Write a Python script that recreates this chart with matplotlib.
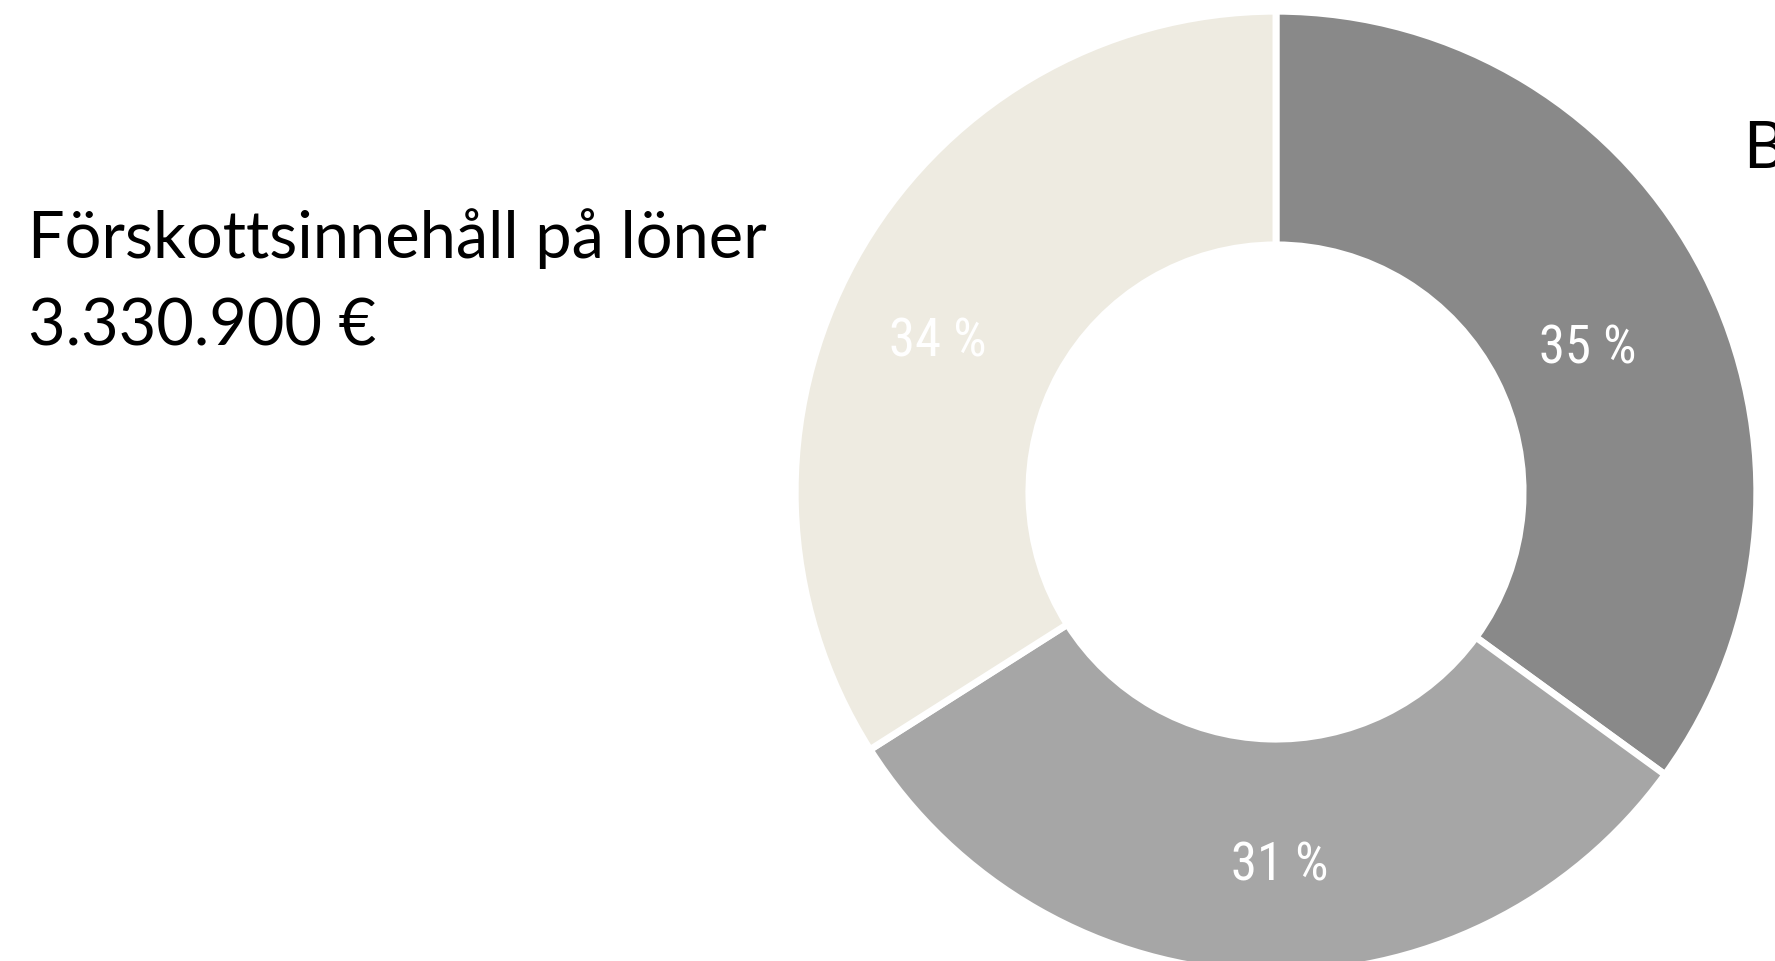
import matplotlib
matplotlib.use('Agg')
import matplotlib.pyplot as plt
from matplotlib import font_manager

# data
labels = ['A', 'B', 'C']
shares = [35, 31, 34]
colors = ['#898989', '#a6a6a6', '#eeebe1']
title = 'Förskottsinnehåll på löner'
amount = '3.330.900 €'
next_title = 'B'

W, H = 1775, 961
fonts = font_manager.fontManager.ttflist
names = {f.name for f in fonts}
narrow = None
for cand in ['Roboto Condensed', 'Liberation Sans Narrow', 'Open Sans Condensed',
             'Noto Sans Condensed', 'DejaVu Sans Condensed']:
    if cand in names:
        narrow = cand
        break
if narrow is None:
    extra = sorted(n for n in names if 'Condensed' in n or 'Narrow' in n)
    narrow = extra[0] if extra else 'DejaVu Sans'
condensed_dejavu = any(f.name == 'DejaVu Sans' and f.stretch == 'condensed' for f in fonts)

fig = plt.figure(figsize=(W / 100, H / 100), dpi=100)
fig.patch.set_facecolor('white')

# donut: centre (1276, 492) px, outer radius 477 px
cx, cy, r = 1276, 492, 477
ax = fig.add_axes([(cx - r) / W, (H - cy - r) / H, 2 * r / W, 2 * r / H])
lab_size = 38 if narrow != 'DejaVu Sans' or condensed_dejavu else 31
wedges, texts, autotexts = ax.pie(
    shares, colors=colors, startangle=90, counterclock=False,
    radius=1.008, autopct='%.0f %%', pctdistance=0.76,
    wedgeprops=dict(width=0.49, edgecolor='white', linewidth=5),
    textprops=dict(color='white', fontsize=lab_size, family=narrow, stretch='condensed'))
# label positions as in the reference
label_pos = [(0.654, 0.300), (0.008, -0.785), (-0.709, 0.315)]
for t, p in zip(autotexts, label_pos):
    t.set_position(p)
ax.set_xlim(-1, 1)
ax.set_ylim(-1, 1)
ax.set_aspect('equal')
ax.axis('off')

# title texts, font size fitted to the reference width
t1 = fig.text(28 / W, 1 - 258 / H, title, fontsize=50, family='Lato',
              va='baseline', ha='left', color='black')
t2 = fig.text(28 / W, 1 - 345 / H, amount, fontsize=50, family='Lato',
              va='baseline', ha='left', color='black')
fig.canvas.draw()
w = t1.get_window_extent().width
fs = 50 * 738 / w
t1.set_fontsize(fs)
t2.set_fontsize(fs)
fig.text(1743 / W, 1 - 168 / H, next_title, fontsize=fs, family='Lato',
         va='baseline', ha='left', color='black')

fig.savefig('out.png', dpi=100, facecolor='white')
